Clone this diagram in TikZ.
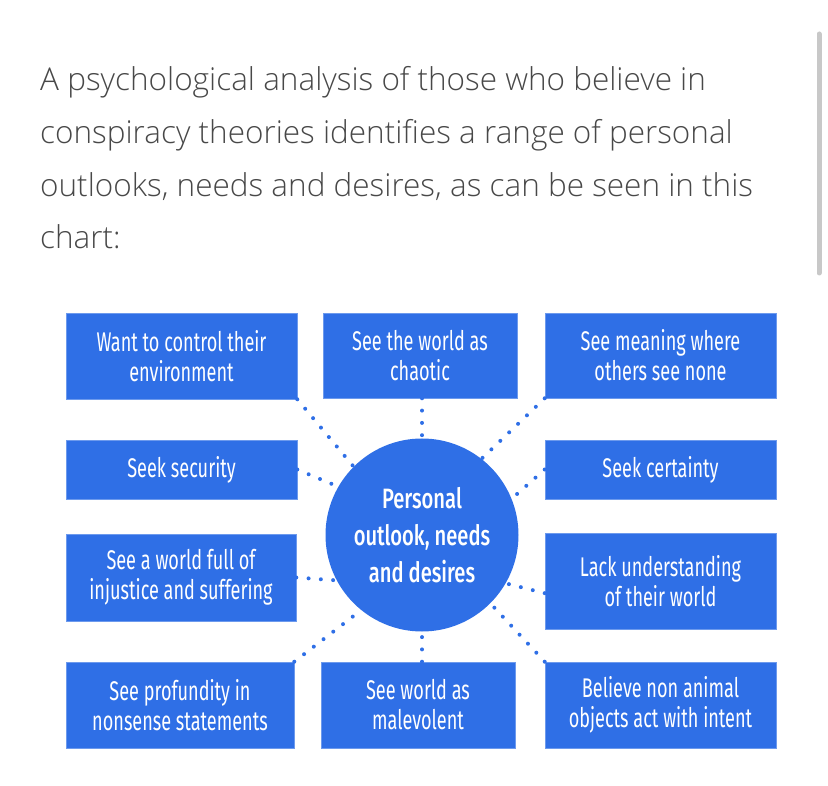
\documentclass[tikz,border=0pt]{standalone}
\usepackage{fontspec}
\setmainfont{Open Sans Light}
\newfontfamily\boxfont[FakeStretch=0.67]{Fira Sans}
\newfontfamily\hubfont[FakeStretch=0.72]{Fira Sans Medium}
\usepackage{xcolor}
\usetikzlibrary{positioning}
\definecolor{chartblue}{HTML}{2F6FE6}
\definecolor{bodygray}{HTML}{484848}
\definecolor{bargray}{HTML}{C8C8C8}

\begin{document}
\begin{tikzpicture}[
  x=1pt, y=-1pt,
  item/.style={rectangle,fill=chartblue,draw=chartblue!70!white,line width=0.6pt,
    text=white,align=center,inner sep=0pt,font=\boxfont\fontsize{27}{30}\selectfont},
  hub/.style={circle,fill=chartblue,text=white,align=center,inner sep=0pt,
    minimum size=193pt,font=\hubfont\fontsize{28}{37}\selectfont},
  dots/.style={chartblue,line width=4pt,line cap=round,dash pattern=on 0pt off 12.3pt}
]
\useasboundingbox (0,0) rectangle (828,786);

% Intro text (base = last line)
\node[anchor=base west,align=left,inner sep=0pt,text=bodygray,
  font=\fontsize{31.5}{52.8}\selectfont] (intro) at (40,249)
  {A psychological analysis of those who believe in\\
   conspiracy theories identifies a range of personal\\
   outlooks, needs and desires, as can be seen in this\\
   chart:};

% Scroll bar
\draw[bargray,line width=5pt,line cap=round] (819,34) -- (819,273);

% Centre
\node[hub] (ctr) at (422,535) {Personal\\outlook, needs\\and desires};

% Boxes
\node[item,minimum width=231pt,minimum height=86pt] (want)  at (181.5,356) {Want to control their\\environment};
\node[item,minimum width=194pt,minimum height=85pt] (chaos) at (420,355.5) {See the world as\\chaotic};
\node[item,minimum width=231pt,minimum height=85pt] (mean)  at (660.5,355.5) {See meaning where\\others see none};
\node[item,minimum width=231pt,minimum height=59pt] (sec)   at (181.5,469.5) {Seek security};
\node[item,minimum width=231pt,minimum height=59pt] (cert)  at (660.5,469.5) {Seek certainty};
\node[item,minimum width=230pt,minimum height=87pt] (world) at (181,577.5) {See a world full of\\injustice and suffering};
\node[item,minimum width=231pt,minimum height=96pt] (lack)  at (660.5,581) {Lack understanding\\of their world};
\node[item,minimum width=228pt,minimum height=86pt] (prof)  at (180,705) {See profundity in\\nonsense statements};
\node[item,minimum width=194pt,minimum height=86pt] (male)  at (418,705) {See world as\\malevolent};
\node[item,minimum width=231pt,minimum height=86pt] (bel)   at (660.5,705) {Believe non animal\\objects act with intent};

% Dotted links
\draw[dots] (want.south east) -- (ctr.135);
\draw[dots] (chaos.south -| ctr.north) -- (ctr.north);
\draw[dots] (mean.south west) -- (ctr.52);
\draw[dots] (sec.east) -- (ctr.150);
\draw[dots] (cert.west) -- (ctr.22);
\draw[dots] (world.east) -- (ctr.208);
\draw[dots] (lack.186) -- (ctr.330);
\draw[dots] (prof.north east) -- (ctr.231);
\draw[dots] (male.north -| ctr.south) -- (ctr.south);
\draw[dots] (bel.north west) -- (ctr.315);
\end{tikzpicture}
\end{document}
